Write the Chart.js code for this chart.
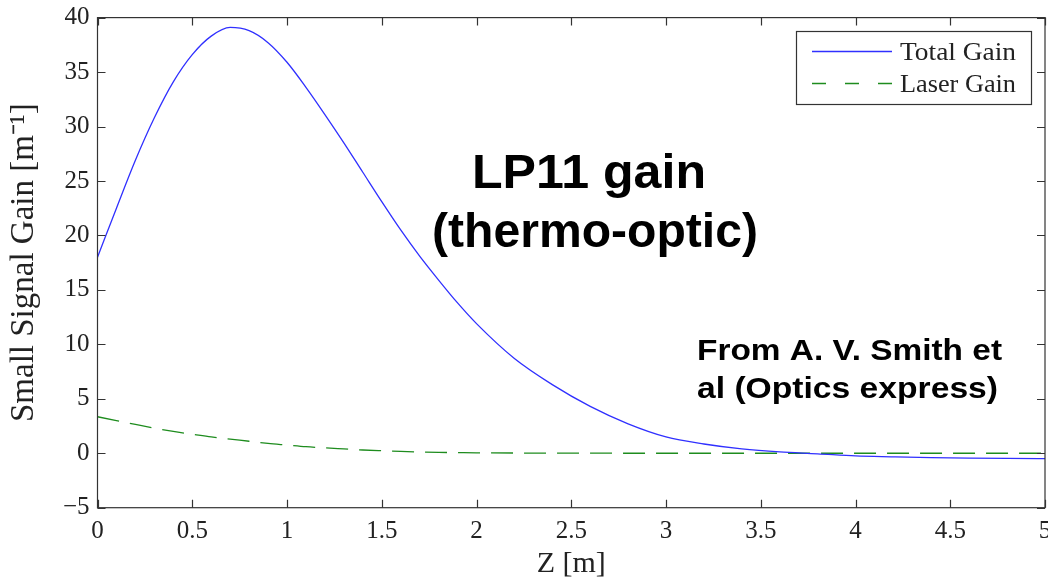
<!DOCTYPE html>
<html>
<head>
<meta charset="utf-8">
<script src="https://cdn.jsdelivr.net/npm/chart.js@4.4.1/dist/chart.umd.min.js"></script>
<style>
  html, body { margin: 0; padding: 0; background: #fff; }
  #wrap { width: 1048px; height: 582px; position: relative; }
</style>
</head>
<body>
<div id="wrap"><canvas id="chart"></canvas></div>
<script>
/* Small signal gain vs position along the fibre */

const zPos = [0, 0.1, 0.2, 0.3, 0.4, 0.5, 0.6, 0.7, 0.8, 0.9, 1.0, 1.1, 1.2, 1.3, 1.4, 1.5, 1.6, 1.7, 1.8, 1.9,
              2.0, 2.2, 2.4, 2.6, 2.8, 3.0, 3.2, 3.4, 3.6, 3.8, 4.0, 4.2, 4.4, 4.6, 4.8, 5.0];
const totalGain = [18.0, 22.5, 26.9, 30.8, 34.1, 36.6, 38.3, 39.1, 38.8, 37.7, 35.9, 33.6, 31.1, 28.5, 25.8, 23.1, 20.5, 18.1, 15.9, 13.8,
                   11.9, 8.7, 6.3, 4.3, 2.7, 1.5, 0.85, 0.4, 0.12, -0.05, -0.25, -0.33, -0.4, -0.45, -0.48, -0.5];
const laserGain = [3.35, 3.0, 2.65, 2.3, 2.0, 1.75, 1.5, 1.3, 1.1, 0.9, 0.75, 0.6, 0.5, 0.4, 0.3, 0.23, 0.17, 0.12, 0.08, 0.06,
                   0.04, 0.02, 0.01, 0.01, 0.0, 0.0, 0.0, 0.0, 0.0, 0.0, 0.0, 0.0, 0.0, 0.0, 0.0, 0.0];
const seriesNames = ['Total Gain', 'Laser Gain'];
const xTicks = [0, 0.5, 1, 1.5, 2, 2.5, 3, 3.5, 4, 4.5, 5];
const yTicks = [-5, 0, 5, 10, 15, 20, 25, 30, 35, 40];

const SERIF = '"Liberation Serif", "Times New Roman", serif';
const SANS = '"Liberation Sans", Arial, sans-serif';
const INK = '#222';

// draw text squeezed/stretched to a given width
function fitText(ctx, text, x, y, width, font) {
  ctx.save();
  ctx.font = font;
  const w = ctx.measureText(text).width;
  ctx.translate(x, y);
  ctx.scale(width / w, 1);
  ctx.textAlign = 'left';
  ctx.textBaseline = 'alphabetic';
  ctx.fillText(text, 0, 0);
  ctx.restore();
}

const framePlugin = {
  id: 'frame',
  afterDraw(chart) {
    const { ctx, chartArea: a, scales } = chart;
    const tick = 8;
    ctx.save();
    ctx.strokeStyle = '#333';
    ctx.lineWidth = 1.2;
    ctx.strokeRect(a.left, a.top, a.right - a.left, a.bottom - a.top);

    /* inward ticks on all four sides */
    ctx.beginPath();
    xTicks.forEach(v => {
      const px = Math.round(scales.x.getPixelForValue(v)) + 0.5;
      ctx.moveTo(px, a.bottom); ctx.lineTo(px, a.bottom - tick);
      ctx.moveTo(px, a.top);    ctx.lineTo(px, a.top + tick);
    });
    yTicks.forEach(v => {
      const py = Math.round(scales.y.getPixelForValue(v)) + 0.5;
      ctx.moveTo(a.left, py);  ctx.lineTo(a.left + tick, py);
      ctx.moveTo(a.right, py); ctx.lineTo(a.right - tick, py);
    });
    ctx.stroke();

    /* legend */
    const lx = 796, ly = 31, lw = 235, lh = 73;
    ctx.fillStyle = '#fff';
    ctx.fillRect(lx, ly, lw, lh);
    ctx.strokeStyle = '#333';
    ctx.lineWidth = 1.2;
    ctx.strokeRect(lx + 0.5, ly + 0.5, lw, lh);
    const rows = [51.5, 83.5];
    chart.data.datasets.forEach((ds, i) => {
      ctx.beginPath();
      ctx.strokeStyle = ds.borderColor;
      ctx.lineWidth = 1.4;
      ctx.setLineDash(i === 1 ? [14, 19] : []);
      ctx.moveTo(812, rows[i]);
      ctx.lineTo(892, rows[i]);
      ctx.stroke();
      ctx.setLineDash([]);
      ctx.fillStyle = INK;
      fitText(ctx, ds.label, 900, rows[i] + 8.5, 116, '26px ' + SERIF);
    });

    /* annotations */
    ctx.fillStyle = '#000';
    fitText(ctx, 'LP11 gain', 472, 188, 234, 'bold 48px ' + SANS);
    fitText(ctx, '(thermo-optic)', 432, 247, 326, 'bold 48px ' + SANS);
    fitText(ctx, 'From A. V. Smith et', 697, 360, 305, 'bold 30px ' + SANS);
    fitText(ctx, 'al (Optics express)', 697, 398, 301, 'bold 30px ' + SANS);
    ctx.restore();
  }
};

new Chart(document.getElementById('chart'), {
  type: 'line',
  data: {
    datasets: [
      {
        label: seriesNames[0],
        data: zPos.map((z, i) => ({ x: z, y: totalGain[i] })),
        borderColor: '#3030ff',
        borderWidth: 1.3,
        pointRadius: 0,
        cubicInterpolationMode: 'monotone',
      },
      {
        label: seriesNames[1],
        data: zPos.map((z, i) => ({ x: z, y: laserGain[i] })),
        borderColor: '#1e8c1e',
        borderWidth: 1.3,
        borderDash: [22, 11],
        pointRadius: 0,
        cubicInterpolationMode: 'monotone',
      },
    ],
  },
  options: {
    responsive: true,
    maintainAspectRatio: false,
    animation: false,
    events: [],
    layout: { padding: { top: 17.6, right: 3, left: 0, bottom: 0 } },
    plugins: { legend: { display: false }, tooltip: { enabled: false } },
    scales: {
      x: {
        type: 'linear',
        min: 0,
        max: 5,
        afterBuildTicks: s => { s.ticks = xTicks.map(v => ({ value: v })); },
        afterFit: s => { s.height = 74.3; s.paddingLeft = 0; s.paddingRight = 0; },
        grid: { display: false, drawTicks: false },
        border: { display: false },
        ticks: { color: INK, font: { family: SERIF, size: 25 }, padding: 9, maxRotation: 0, callback: v => String(v) },
        title: { display: true, text: 'Z [m]', color: INK, font: { family: SERIF, size: 30 }, padding: { top: 0, bottom: 0 } },
      },
      y: {
        type: 'linear',
        min: -5,
        max: 40,
        afterBuildTicks: s => { s.ticks = yTicks.map(v => ({ value: v })); },
        afterFit: s => { s.width = 97.5; s.paddingTop = 0; s.paddingBottom = 0; },
        grid: { display: false, drawTicks: false },
        border: { display: false },
        ticks: {
          color: INK, font: { family: SERIF, size: 25 }, padding: 8,
          callback: v => String(v).replace('-', '\u2212'),
        },
        title: { display: true, text: 'Small Signal Gain [m\u207B\u00B9]', color: INK, font: { family: SERIF, size: 33 }, padding: { top: 5, bottom: 0 } },
      },
    },
  },
  plugins: [framePlugin],
});
</script>
</body>
</html>
